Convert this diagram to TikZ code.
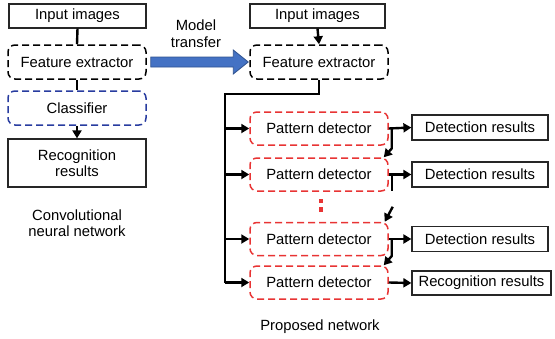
\documentclass[tikz,border=0pt]{standalone}
\usepackage{fontspec}
\setmainfont{Liberation Sans}
\usetikzlibrary{arrows.meta,calc}
\definecolor{dred}{RGB}{232,52,52}
\definecolor{dblue}{RGB}{40,60,160}
\definecolor{afill}{RGB}{68,114,196}
\definecolor{aedge}{RGB}{47,82,143}
\tikzset{
  base/.style={font=\fontsize{14.8}{16.5}\selectfont, inner sep=0pt, align=center},
  plainbox/.style={base, draw=black!85, line width=1.2pt},
  dashbox/.style={base, draw, line width=1.5pt, rounded corners=7pt, dash pattern=on 7pt off 4pt},
  conn/.style={line width=2.4pt, black},
  arr/.style={conn, -{Triangle[length=8pt,width=9pt]}},
  lbl/.style={base},
}
\begin{document}
\begin{tikzpicture}[x=1pt,y=-1pt]
\useasboundingbox (0,0) rectangle (555,338);
% left column
\node[plainbox, minimum width=137, minimum height=24] (in1) at (77.5,16) {Input images};
\node[dashbox, black, minimum width=138, minimum height=34] (fe1) at (77,62) {Feature extractor};
\node[dashbox, draw=dblue, minimum width=138, minimum height=34] (cl) at (77,108) {\textcolor{black}{Classifier}};
\node[plainbox, minimum width=138, minimum height=48] (rr1) at (77,163) {Recognition\\results};
\node[lbl] (cnn) at (77,223) {Convolutional\\neural network};
\draw[conn] (in1.south) -- (fe1.north);
\draw[conn] (fe1.south) -- (cl.north);
\draw[arr] (cl.south) -- (rr1.north);
% transfer
\node[lbl] (mt) at (196,33.5) {Model\\transfer};
% right column
\node[plainbox, minimum width=135, minimum height=24] (in2) at (317.5,16) {Input images};
\node[dashbox, black, minimum width=138, minimum height=34] (fe2) at (319,62) {Feature extractor};
\foreach \n/\y in {pd1/128.5, pd2/174.5, pd3/239, pd4/282.5}
  \node[dashbox, draw=dred, minimum width=138, minimum height=33] (\n) at (319,\y) {Pattern detector};
\node[plainbox, minimum width=136, minimum height=25] (dr1) at (480,127.5) {Detection results};
\node[plainbox, minimum width=136, minimum height=25] (dr2) at (480,174.5) {Detection results};
\node[plainbox, minimum width=136, minimum height=25] (dr3) at (480,239) {Detection results};
\node[plainbox, minimum width=139, minimum height=24] (rec2) at (481.5,283) {Recognition results};
\node[lbl] (pn) at (320,327) {Proposed network};
% blue transfer arrow
\coordinate (ta) at ($(fe1.east)+(4,0)$);
\coordinate (tb) at ($(fe2.west)+(-1,0)$);
\draw[fill=afill, draw=aedge, line width=0.8pt]
  ($(ta)+(0,-5)$) -- ($(tb)+(-15,-5)$) -- ($(tb)+(-15,-12)$) -- (tb)
  -- ($(tb)+(-15,12)$) -- ($(tb)+(-15,5)$) -- ($(ta)+(0,5)$) -- cycle;
% right connectors
\draw[arr] (in2.south) -- (fe2.north);
\coordinate (bustop) at (225,94);
\coordinate (busend) at (225,282.5);
\draw[conn] (fe2.south) |- (bustop) -- (busend);
\foreach \n in {pd1,pd2,pd3,pd4}
  \draw[arr] (bustop |- \n.west) -- (\n.west);
\draw[arr] (pd1.east) -- (dr1.west);
\draw[arr] (pd2.east) -- (dr2.west);
\draw[arr] (pd3.east) -- (dr3.west);
\draw[arr] (pd4.east) -- (rec2.west);
% cascade
\draw[arr] ($(pd1.east)+(3,0)$) -- ++(0,20) -- ($(pd2.north east)+(-5,0)$);
\draw[conn] ($(pd2.east)+(3,0)$) -- ++(0,16);
\coordinate (c3) at ($(pd3.north east)+(4,-15)$);
\draw[arr] (c3) -- ($(pd3.north east)+(-4,0)$);
\draw[arr] ($(pd3.east)+(3,0)$) -- ++(0,17) -- ($(pd4.north east)+(-5,0)$);
% dots
\fill[dred] (318.5,198.5) rectangle (323,203);
\fill[dred] (318.5,207) rectangle (323,211.5);
\end{tikzpicture}
\end{document}
